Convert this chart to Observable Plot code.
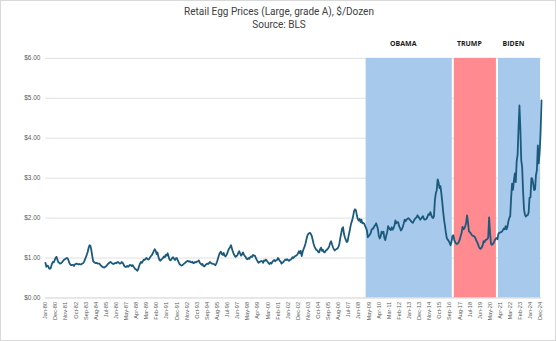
<!DOCTYPE html>
<html>
<head>
<meta charset="utf-8">
<script src="https://cdn.jsdelivr.net/npm/d3@7"></script>
<script src="https://cdn.jsdelivr.net/npm/@observablehq/plot@0.6"></script>
<style>
  html, body { margin: 0; padding: 0; background: #fff; }
  #wrap { position: relative; width: 556px; height: 341px; box-sizing: border-box; border: 1px solid #d9d9d9; overflow: hidden; }
  #title { position: absolute; left: 0; top: 4px; width: 556px; text-align: center; font-family: "Liberation Sans Narrow", "Roboto", sans-serif; font-size: 10px; line-height: 13px; color: #404040; }
  #chart { position: absolute; left: -1px; top: -1px; }
</style>
</head>
<body>
<div id="wrap">
  <div id="chart"></div>
  <div id="title">Retail Egg Prices (Large, grade A), $/Dozen<br>Source: BLS</div>
</div>
<script>
// Monthly average price, $ per dozen, Jan 1980 .. Jan 2025
const eggPrices = [
  // 1980
  .88,.78,.81,.80,.74,.73,.76,.85,.90,.89,.94,1.00,
  // 1981
  1.03,.96,.90,.88,.86,.87,.89,.92,.95,.97,.98,1.00,
  // 1982
  1.00,.95,.88,.84,.82,.83,.83,.80,.84,.85,.86,.85,
  // 1983
  .84,.85,.84,.84,.86,.87,.90,.96,1.02,1.08,1.15,1.25,
  // 1984
  1.32,1.30,1.20,1.05,.92,.90,.88,.87,.88,.86,.86,.86,
  // 1985
  .82,.80,.78,.77,.76,.78,.79,.82,.85,.87,.89,.90,
  // 1986
  .88,.86,.85,.86,.88,.87,.89,.90,.88,.86,.87,.90,
  // 1987
  .88,.84,.80,.78,.78,.80,.78,.80,.83,.82,.80,.82,
  // 1988
  .78,.75,.72,.71,.68,.72,.80,.86,.90,.88,.92,.96,
  // 1989
  .95,.98,1.00,.98,.96,.98,1.02,1.05,1.08,1.12,1.18,1.22,
  // 1990
  1.18,1.10,1.14,1.03,.96,.93,.96,.98,1.00,1.04,1.02,1.08,
  // 1991
  1.06,1.12,1.05,.97,.94,.96,1.00,1.02,.98,.95,.99,1.00,
  // 1992
  .95,.90,.85,.83,.81,.82,.84,.86,.88,.90,.92,.93,
  // 1993
  .91,.92,.90,.89,.91,.87,.88,.90,.89,.91,.92,.94,
  // 1994
  .88,.86,.83,.85,.80,.79,.82,.84,.86,.85,.87,.90,
  // 1995
  .88,.86,.86,.85,.84,.82,.86,.92,1.00,1.08,1.13,1.16,
  // 1996
  1.10,1.08,1.13,1.06,1.04,1.07,1.12,1.19,1.24,1.27,1.32,1.24,
  // 1997
  1.16,1.10,1.06,1.03,1.05,1.07,1.13,1.17,1.11,1.06,1.09,1.14,
  // 1998
  1.09,1.05,1.03,.98,.97,1.00,.98,1.02,1.04,1.03,1.08,1.06,
  // 1999
  1.06,1.00,.96,.92,.88,.90,.91,.93,.92,.88,.94,.93,
  // 2000
  .96,.93,.90,.87,.85,.88,.86,.90,.93,.95,.92,.94,
  // 2001
  .95,1.00,.98,.93,.92,.86,.88,.90,.93,.96,.95,.97,
  // 2002
  .95,.93,.95,.96,.98,1.02,1.00,1.03,1.05,1.06,1.08,1.12,
  // 2003
  1.17,1.12,1.18,1.05,1.15,1.22,1.28,1.35,1.45,1.55,1.60,1.62,
  // 2004
  1.63,1.60,1.55,1.45,1.35,1.28,1.24,1.20,1.19,1.15,1.14,1.22,
  // 2005
  1.26,1.18,1.21,1.15,1.14,1.18,1.20,1.22,1.25,1.30,1.38,1.42,
  // 2006
  1.34,1.27,1.22,1.19,1.21,1.23,1.24,1.28,1.36,1.50,1.62,1.74,
  // 2007
  1.77,1.60,1.52,1.46,1.40,1.42,1.55,1.65,1.78,1.88,1.95,2.05,
  // 2008
  2.18,2.22,2.20,2.07,1.98,1.94,1.98,1.90,1.96,1.87,1.88,1.86,
  // 2009
  1.80,1.75,1.69,1.52,1.55,1.58,1.62,1.70,1.74,1.74,1.80,1.82,
  // 2010
  1.87,1.80,1.72,1.55,1.49,1.54,1.66,1.62,1.66,1.50,1.45,1.56,
  // 2011
  1.64,1.80,1.76,1.72,1.70,1.77,1.71,1.75,1.82,1.94,1.87,1.90,
  // 2012
  1.90,1.80,1.75,1.69,1.72,1.78,1.86,1.96,1.92,1.96,1.98,2.00,
  // 2013
  1.98,1.95,1.92,1.90,1.88,1.93,1.97,2.00,2.02,2.07,2.03,2.00,
  // 2014
  1.96,1.99,2.02,2.05,1.98,1.96,1.97,1.99,2.04,2.10,2.08,2.15,
  // 2015
  2.08,2.02,2.00,2.05,2.45,2.62,2.70,2.97,2.89,2.75,2.80,2.62,
  // 2016
  2.40,2.15,1.95,1.80,1.62,1.49,1.46,1.43,1.38,1.32,1.40,1.55,
  // 2017
  1.57,1.45,1.40,1.36,1.35,1.37,1.40,1.46,1.55,1.62,1.78,1.72,
  // 2018
  1.74,1.80,1.88,2.07,1.90,1.67,1.65,1.62,1.58,1.56,1.55,1.54,
  // 2019
  1.50,1.44,1.40,1.34,1.28,1.24,1.23,1.27,1.32,1.42,1.40,1.45,
  // 2020
  1.46,1.47,1.52,2.02,1.64,1.36,1.33,1.35,1.38,1.44,1.48,1.50,
  // 2021
  1.47,1.60,1.63,1.64,1.65,1.66,1.70,1.74,1.72,1.80,1.72,1.79,
  // 2022
  1.93,2.01,2.05,2.52,2.86,2.71,2.94,3.12,2.90,3.42,3.59,4.25,
  // 2023
  4.82,4.21,3.45,3.27,2.67,2.22,2.09,2.04,2.07,2.07,2.14,2.51,
  // 2024
  2.52,3.00,2.99,2.86,2.70,2.72,3.08,3.20,3.82,3.37,3.65,4.15,
  // 2025
  4.95
];
const startYear = 1980;

const presidents = ["OBAMA", "TRUMP", "BIDEN"];
const termStart = ["2009-01", "2017-01", "2021-01"];
const termEnd   = ["2017-01", "2021-01", "2025-01"];
const termColor = ["#a7c9eb", "#ff8b90", "#a7c9eb"];
const shadeTop = 6;

const yTicks = [0, 1, 2, 3, 4, 5, 6];
const xTickEvery = 11; // a label every 11 months: Jan-80, Dec-80, Nov-81, ...

const monthDate = (i) => new Date(Date.UTC(startYear, i, 1));
const parseYM = (s) => { const [y, m] = s.split("-").map(Number); return new Date(Date.UTC(y, m - 1, 1)); };

const series = eggPrices.map((v, i) => ({ date: monthDate(i), price: v }));
const terms = presidents.map((p, i) => ({
  name: p, x1: parseYM(termStart[i]), x2: parseYM(termEnd[i]), color: termColor[i],
  mid: new Date((parseYM(termStart[i]).getTime() + parseYM(termEnd[i]).getTime()) / 2)
}));
const xTicks = d3.range(0, eggPrices.length - 1, xTickEvery).map(monthDate);
const fmt = d3.utcFormat("%b-%y");

const chart = Plot.plot({
  width: 556,
  height: 341,
  marginTop: 58,
  marginBottom: 43,
  marginLeft: 45,
  marginRight: 14,
  style: { background: "transparent", fontFamily: "'Liberation Sans', Arial, sans-serif" },
  x: { type: "utc", domain: [monthDate(0), monthDate(eggPrices.length - 1)] },
  y: { domain: [0, 6] },
  marks: [
    Plot.gridY(yTicks, { stroke: "#d9d9d9", strokeOpacity: 1, strokeWidth: 0.8 }),
    Plot.rectY(terms, { x1: "x1", x2: "x2", y1: 0, y2: shadeTop, fill: "color", insetLeft: 1, insetRight: 1 }),
    Plot.ruleY([0], { stroke: "#d9d9d9", strokeWidth: 0.8 }),
    Plot.lineY(series, { x: "date", y: "price", stroke: "#1c5a7d", strokeWidth: 1.8, strokeLinejoin: "round" }),
    Plot.text(terms, { x: "mid", y: shadeTop, text: "name", dy: -15, dx: -6, fontWeight: "bold", fontSize: 7, fill: "#1a1a1a", fontFamily: "'Open Sans', sans-serif" }),
    Plot.axisY(yTicks, { tickSize: 0, tickPadding: 5, tickFormat: d => "$" + d.toFixed(2), fontSize: 6.5, fill: "#595959", label: null }),
    Plot.axisX(xTicks, { tickSize: 0, tickPadding: 4, tickRotate: -90, tickFormat: fmt, fontSize: 5.6, fill: "#595959", label: null })
  ]
});
document.getElementById("chart").appendChild(chart);
</script>
</body>
</html>
